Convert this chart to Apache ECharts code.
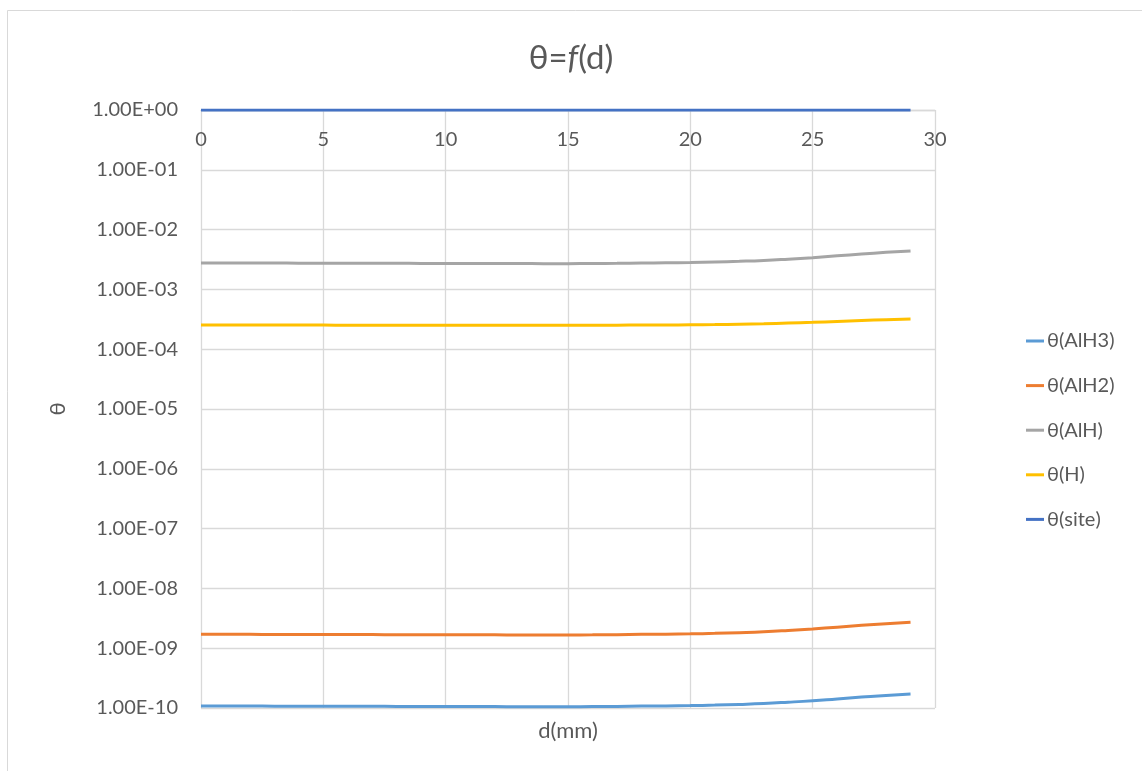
<!DOCTYPE html>
<html>
<head>
<meta charset="utf-8">
<script src="https://cdn.jsdelivr.net/npm/echarts@6/dist/echarts.min.js"></script>
<style>
html,body{margin:0;padding:0;background:#fff;}
#chart{width:1142px;height:771px;}
</style>
</head>
<body>
<div id="chart"></div>
<script>
const dValues = [0,1,2,3,4,5,6,7,8,9,10,11,12,13,14,15,16,17,18,19,20,21,22,23,24,25,26,27,28,29];
const thetaAlH3 = [1.080e-10,1.078e-10,1.076e-10,1.074e-10,1.072e-10,1.070e-10,1.068e-10,1.066e-10,1.064e-10,1.061e-10,1.059e-10,1.057e-10,1.055e-10,1.053e-10,1.051e-10,1.051e-10,1.055e-10,1.064e-10,1.076e-10,1.084e-10,1.097e-10,1.118e-10,1.149e-10,1.189e-10,1.250e-10,1.324e-10,1.420e-10,1.521e-10,1.625e-10,1.714e-10];
const thetaAlH2 = [1.710e-9,1.707e-9,1.703e-9,1.700e-9,1.697e-9,1.694e-9,1.690e-9,1.687e-9,1.684e-9,1.681e-9,1.677e-9,1.674e-9,1.671e-9,1.668e-9,1.665e-9,1.665e-9,1.671e-9,1.684e-9,1.703e-9,1.717e-9,1.737e-9,1.770e-9,1.819e-9,1.883e-9,1.979e-9,2.097e-9,2.248e-9,2.409e-9,2.572e-9,2.714e-9];
const thetaAlH = [2.770e-3,2.765e-3,2.759e-3,2.754e-3,2.749e-3,2.743e-3,2.738e-3,2.733e-3,2.728e-3,2.722e-3,2.717e-3,2.712e-3,2.707e-3,2.702e-3,2.696e-3,2.696e-3,2.707e-3,2.728e-3,2.759e-3,2.781e-3,2.813e-3,2.868e-3,2.946e-3,3.050e-3,3.207e-3,3.397e-3,3.641e-3,3.902e-3,4.166e-3,4.397e-3];
const thetaH = [2.540e-4,2.538e-4,2.535e-4,2.533e-4,2.530e-4,2.528e-4,2.525e-4,2.523e-4,2.521e-4,2.518e-4,2.516e-4,2.513e-4,2.511e-4,2.508e-4,2.506e-4,2.506e-4,2.511e-4,2.521e-4,2.535e-4,2.545e-4,2.560e-4,2.584e-4,2.619e-4,2.665e-4,2.733e-4,2.813e-4,2.912e-4,3.015e-4,3.115e-4,3.200e-4];
const thetaSite = [0.9970,0.9970,0.9970,0.9970,0.9970,0.9970,0.9970,0.9970,0.9970,0.9970,0.9970,0.9970,0.9970,0.9970,0.9970,0.9970,0.9970,0.9970,0.9970,0.9970,0.9969,0.9969,0.9968,0.9967,0.9965,0.9963,0.9961,0.9958,0.9955,0.9953];

const seriesNames = ['θ(AlH3)','θ(AlH2)','θ(AlH)','θ(H)','θ(site)'];
const seriesColors = ['#5B9BD5','#ED7D31','#A5A5A5','#FFC000','#4472C4'];
const seriesData = [thetaAlH3, thetaAlH2, thetaAlH, thetaH, thetaSite];

const FONT = 'Lato, "Open Sans", sans-serif';
const TXT = '#595959';

function fmtExp(v){
  const e = Math.round(Math.log10(v));
  return '1.00E' + (e < 0 ? '-' : '+') + String(Math.abs(e)).padStart(2,'0');
}

const chart = echarts.init(document.getElementById('chart'), null, {renderer:'canvas'});
chart.setOption({
  backgroundColor:'#fff',
  animation:false,
  textStyle:{fontFamily:FONT},
  title:{
    text:'{a|θ=}{b|f}{a|(d)}',
    left:'center',
    top:37,
    textStyle:{
      fontWeight:'normal',
      rich:{
        a:{fontSize:33,color:TXT,fontFamily:FONT,fontWeight:'normal'},
        b:{fontSize:33,color:TXT,fontFamily:FONT,fontStyle:'italic',fontWeight:'normal'}
      }
    }
  },
  graphic:[
    {type:'rect',shape:{x:7.5,y:10.5,width:1200,height:800},style:{fill:'none',stroke:'#d9d9d9',lineWidth:1},silent:true,z:-1},
    {type:'text',x:568,y:731,style:{text:'d(mm)',fontSize:22,fontFamily:FONT,fill:TXT,align:'center',verticalAlign:'middle'}}
  ],
  legend:{
    orient:'vertical',
    left:1021,
    top:326,
    icon:'rect',
    itemWidth:18,
    itemHeight:3,
    itemGap:24.6,
    textStyle:{fontSize:20,color:TXT,fontFamily:FONT,padding:[0,0,0,-2]},
    data:seriesNames
  },
  grid:{left:201,right:207,top:110,bottom:63,containLabel:false},
  xAxis:{
    type:'value',
    position:'top',
    min:0,max:30,interval:5,
    axisLine:{show:true,lineStyle:{color:'#d9d9d9',width:1.3}},
    axisTick:{show:false},
    axisLabel:{inside:true,margin:20,fontSize:20,color:TXT,fontFamily:FONT},
    splitLine:{show:true,lineStyle:{color:'#d9d9d9',width:1.3}}
  },
  yAxis:{
    type:'log',
    logBase:10,
    min:1e-10,max:1,interval:1,
    name:'θ',
    nameLocation:'middle',
    nameGap:132,
    nameRotate:90,
    nameTextStyle:{fontSize:22,color:TXT,fontFamily:FONT},
    axisLine:{show:false},
    axisTick:{show:false},
    axisLabel:{margin:23,fontSize:20,color:TXT,fontFamily:FONT,formatter:fmtExp},
    splitLine:{show:true,lineStyle:{color:'#d9d9d9',width:1.3}}
  },
  series: seriesNames.map((n,i)=>({
    name:n,
    type:'line',
    smooth:true,
    showSymbol:false,
    symbol:'none',
    color:seriesColors[i],
    lineStyle:{width:3,color:seriesColors[i]},
    data: dValues.map((d,j)=>[d, seriesData[i][j]])
  }))
});
</script>
</body>
</html>
